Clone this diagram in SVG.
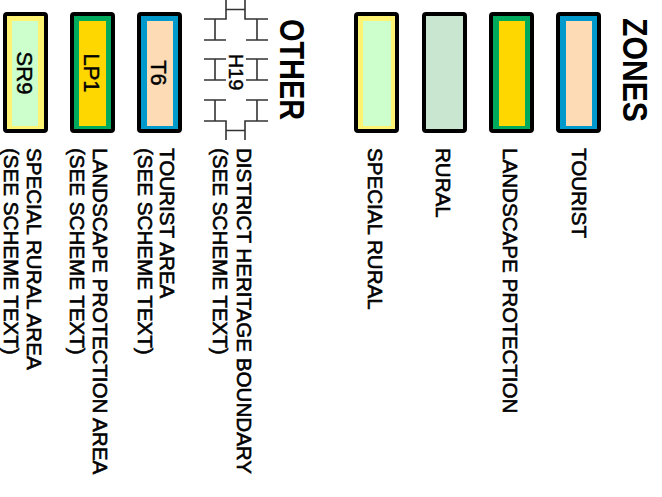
<svg xmlns="http://www.w3.org/2000/svg" width="662" height="497" viewBox="0 0 662 497">
<style>
.box{stroke:#000;stroke-width:4}
.lbl{font-family:"Liberation Sans",Arial,sans-serif;font-size:20.6px;fill:#000;stroke:#000;stroke-width:0.6}
.code{font-family:"Liberation Sans",Arial,sans-serif;font-size:22px;fill:#000;stroke:#000;stroke-width:0.4;text-anchor:middle}
.head{font-family:"Liberation Sans",Arial,sans-serif;font-size:35px;font-weight:bold;fill:#000}
.hb{fill:none;stroke:#333;stroke-width:1.6}
.sr-o{fill:#fff374}.sr-i{fill:#ccffcc}
.ru{fill:#c8e6d0}
.lp-o{fill:#00aa5c}.lp-i{fill:#ffd700}
.t-o{fill:#0099cc}.t-i{fill:#fddcb5}
</style>
<rect width="662" height="497" fill="#fff"/>

<g id="title-zones">
<text class="head" transform="translate(623,18) rotate(90)" textLength="104" lengthAdjust="spacingAndGlyphs">ZONES</text>
</g>
<g id="title-other">
<text class="head" transform="translate(280,19) rotate(90)" textLength="101" lengthAdjust="spacingAndGlyphs">OTHER</text>
</g>

<g id="zone-tourist">
<rect class="box t-o" x="558" y="14" width="41" height="117" rx="2"/>
<rect class="t-i" x="566" y="21" width="26" height="105"/>
<text class="lbl" transform="translate(572,148) rotate(90)">TOURIST</text>
</g>
<g id="zone-landscape-protection">
<rect class="box lp-o" x="491" y="14" width="41" height="117" rx="2"/>
<rect class="lp-i" x="499" y="21" width="26" height="105"/>
<text class="lbl" transform="translate(503,148) rotate(90)">LANDSCAPE PROTECTION</text>
</g>
<g id="zone-rural">
<rect class="box ru" x="424" y="14" width="41" height="117" rx="2"/>
<text class="lbl" transform="translate(436,148) rotate(90)">RURAL</text>
</g>
<g id="zone-special-rural">
<rect class="box sr-o" x="356" y="14" width="41" height="117" rx="2"/>
<rect class="sr-i" x="363" y="21" width="28" height="105"/>
<text class="lbl" transform="translate(368,148) rotate(90)">SPECIAL RURAL</text>
</g>

<g id="other-heritage">
<path class="hb" d="M226,0 V19 H204 M245,0 V19 H268 M226,9.5 H245 M204,40 H226 M215,19 V40 M246,40 H268 M257,19 V40 M204,59 H226 M215,59 V80 M204,80 H226 M246,59 H268 M257,59 V80 M246,80 H268 M204,100 H226 M215,100 V121 M246,100 H268 M257,100 V121 M204,121 H226 V140 M268,121 H245 V140 M226,130.5 H245"/>
<text class="code" style="font-size:20px" transform="translate(228.5,72) rotate(90)">H19</text>
<text class="lbl" transform="translate(237,148) rotate(90)">DISTRICT HERITAGE BOUNDARY</text>
<text class="lbl" transform="translate(213,148) rotate(90)">(SEE SCHEME TEXT)</text>
</g>
<g id="other-tourist-area">
<rect class="box t-o" x="139" y="14" width="41" height="117" rx="2"/>
<rect class="t-i" x="147" y="21" width="26" height="105"/>
<text class="code" transform="translate(151,73) rotate(90)">T6</text>
<text class="lbl" transform="translate(160,148) rotate(90)">TOURIST AREA</text>
<text class="lbl" transform="translate(137.5,148) rotate(90)">(SEE SCHEME TEXT)</text>
</g>
<g id="other-landscape-protection-area">
<rect class="box lp-o" x="72" y="14" width="41" height="117" rx="2"/>
<rect class="lp-i" x="79" y="21" width="27" height="105"/>
<text class="code" transform="translate(84,73) rotate(90)">LP1</text>
<text class="lbl" transform="translate(93,148) rotate(90)">LANDSCAPE PROTECTION AREA</text>
<text class="lbl" transform="translate(70,148) rotate(90)">(SEE SCHEME TEXT)</text>
</g>
<g id="other-special-rural-area">
<rect class="box sr-o" x="5" y="14" width="41" height="117" rx="2"/>
<rect class="sr-i" x="12" y="21" width="26" height="105"/>
<text class="code" transform="translate(17,73) rotate(90)">SR9</text>
<text class="lbl" transform="translate(27,148) rotate(90)">SPECIAL RURAL AREA</text>
<text class="lbl" transform="translate(3.5,148) rotate(90)">(SEE SCHEME TEXT)</text>
</g>
</svg>
